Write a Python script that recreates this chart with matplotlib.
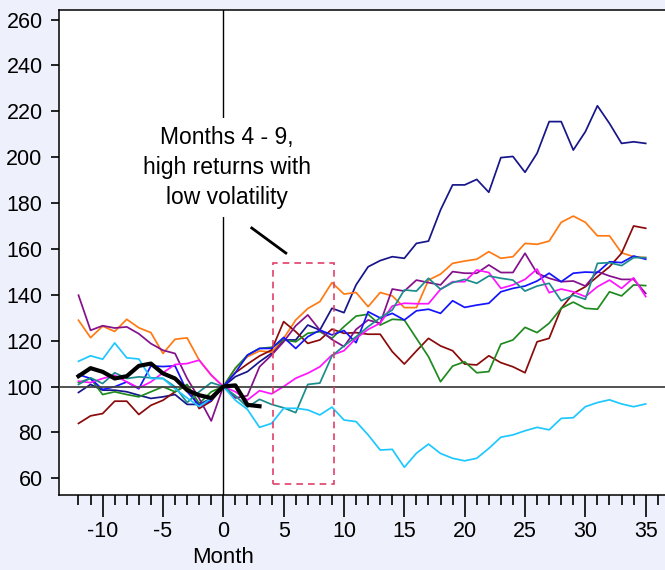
import matplotlib
matplotlib.use("Agg")
import matplotlib.pyplot as plt

plt.rcParams['font.family'] = ['Liberation Sans', 'DejaVu Sans']
plt.rcParams['axes.unicode_minus'] = False

# Meses -12 .. 35 (la serie negra va de -12 a 3)
meses = list(range(-12, 36))
meses_negra = list(range(-12, 4))

navy = [97.4, 100.9, 98.4, 98.4, 97.7, 96.2, 94.8, 95.5, 96.5, 92.2, 92.2, 94.8,
        100, 104.3, 106.5, 110.8, 114.5, 120.3, 120.3, 126.8, 124.6,
        134.1, 132.2, 144.3, 152.2, 154.9, 156.6, 155.9, 162.4, 163.4, 177, 187.9, 187.9, 190.3, 184.7,
        199.8, 200.3, 193.4, 201.7, 215.5, 215.5, 203.1, 211.1, 222.4, 214.7, 206, 206.7, 206]
naranja = [128.9, 121.3, 126.3, 124, 129.3, 125.6, 123.5, 114.4, 120.6, 121.2, 111.5, 104.9,
           100, 108, 113, 115.5, 115, 121, 129, 134, 137,
           145.3, 140.3, 141, 134.8, 141, 139.5, 134.4, 134.4, 146.4, 149, 153.7, 154.7, 155.5, 158.8,
           155.9, 156.6, 162.4, 162, 163.4, 171.6, 174.3, 171.6, 165.7, 165.7, 158.3, 156.6, 156.2]
granate = [83.9, 87.2, 88.2, 93.6, 93.6, 87.8, 91.8, 94, 97.7, 100.6, 90.4, 93.6,
           100, 106, 109.8, 113.3, 115.9, 128.3, 123.9, 118.8, 120.3,
           125, 123.2, 123.5, 122.8, 122.8, 115.2, 109.8, 115.5, 121, 117.7, 115.6, 109.8, 109.4, 113.4,
           110.4, 108.6, 106, 119.5, 121, 134.1, 140.6, 143.5, 147.9, 152.2, 158.1, 170, 169]
verde = [101.7, 103.5, 96.5, 97.7, 96.5, 95.5, 97.7, 99.9, 97.7, 100.9, 92.6, 97.7,
         100, 108, 113.7, 116.6, 117.1, 120.3, 119.5, 123.2, 123.9,
         121, 126.1, 130.7, 131.5, 126.8, 129.3, 129, 121, 113, 102.1, 108.9, 110.8, 106, 106.5,
         118.5, 120.3, 125.8, 123.5, 127.6, 134.1, 136.8, 134.1, 133.7, 141.3, 139.5, 144.3, 144]
morado = [139.8, 124.5, 126.5, 125.5, 126, 123, 118.7, 115.8, 114.4, 103.5, 94.8, 85,
          100, 95, 96, 108.6, 113.7, 119.5, 126.5, 131.2, 124.6,
          120.5, 117.4, 124.9, 129, 127.6, 142.5, 141.6, 146.4, 145.3, 144.3, 150.1, 149.4, 149.4, 153,
          149.7, 149.7, 158.1, 149.4, 147.2, 145.7, 146, 143.8, 150.1, 148.2, 146.7, 146.7, 140.6]
azul = [105.2, 103.5, 98.7, 99.9, 102, 99, 109, 108.7, 109, 97.8, 91.8, 94,
        100, 106, 113.7, 116.6, 116.6, 121.4, 116.6, 121.7, 124.6,
        122.5, 124.4, 119.1, 132.6, 129.9, 131.9, 129, 133, 133.7, 131.9, 137.4, 134.5, 135.5, 136.3,
        141.3, 142.8, 143.8, 146, 149.4, 145.7, 149.4, 149.9, 149.7, 154.4, 154, 156.9, 155.5]
magenta = [102.3, 101.7, 103.5, 104.9, 102, 99.4, 102, 106, 109.6, 110, 111.5, 105,
           100, 97.7, 94.1, 98.2, 96.8, 100, 103.6, 105.8, 108.6,
           113.7, 115.6, 121, 124.9, 127.6, 135.1, 136.3, 136.1, 136.1, 142.4, 145.7, 145.7, 150.8, 149.7,
           142.8, 144.3, 146.7, 151.2, 140.9, 142.5, 141.3, 139.2, 143.5, 146.4, 142.8, 147.4, 139.2]
verde_azulado = [100.9, 103.8, 101.3, 106, 103.5, 104.2, 103.8, 103.5, 99.9, 93, 97.7, 101.7,
                 100, 96, 91, 94.4, 92.2, 90.7, 88.6, 100.9, 101.5,
                 113.3, 117.7, 121.7, 126.1, 129.9, 133.4, 142.1, 141.6, 147.2, 142.4, 145.3, 146.7, 145, 148.2,
                 147.2, 146.4, 141.6, 143.8, 145, 137.4, 139.8, 138, 153.7, 154, 152.7, 156.2, 156.2]
celeste = [111, 113.4, 111.9, 119, 112.5, 112, 103.5, 103.5, 99, 95, 91.3, 94.8,
           100, 94, 90, 82.2, 83.9, 90.5, 90.5, 89.8, 87.6,
           91, 85.4, 84.7, 78.9, 72.3, 72.6, 64.8, 70.9, 74.9, 70.8, 68.7, 67.6, 68.7, 73,
           77.9, 78.9, 80.7, 82.2, 81.1, 86.1, 86.4, 91.2, 93, 94.2, 92.4, 91.2, 92.4]
negra = [104.5, 108, 106.4, 103.5, 104.5, 109, 110, 105.7, 103.5, 98.4, 96.2, 95, 100, 100.5, 92, 91.4]

series = [
    (navy, "#16168a"),
    (naranja, "#ff7a12"),
    (granate, "#8b0a0a"),
    (verde, "#1f8a1f"),
    (morado, "#84108a"),
    (azul, "#1414ff"),
    (magenta, "#ff14ff"),
    (verde_azulado, "#1c8c8c"),
    (celeste, "#1ec8ff"),
]

fig = plt.figure(figsize=(6.65, 5.7), dpi=100, facecolor="#eef0fb")
ax = fig.add_axes([0.089, 0.1316, 0.911, 0.851])
ax.set_facecolor("white")

for valores, color in series:
    ax.plot(meses, valores, color=color, linewidth=1.25, zorder=2)
ax.plot(meses_negra, negra, color="black", linewidth=3, zorder=4)

# Lineas de referencia
ax.axhline(100, color="#444444", linewidth=1.3, zorder=3)
ax.axvline(0, color="black", linewidth=1, zorder=1)

# Recuadro de los meses 4 - 9
ax.add_patch(plt.Rectangle((4.1, 57.5), 5.05, 96.3, fill=False, edgecolor="#e0406a",
                           linestyle=(0, (4, 3)), linewidth=1.2, zorder=5))
ax.plot([2.36, 5.18], [169.1, 158.2], color="black", linewidth=2, zorder=5)
ax.text(0.3, 195.5, "Months 4 - 9,\nhigh returns with\nlow volatility", ha="center", va="center",
        fontsize=16.5, linespacing=1.38, zorder=6,
        bbox=dict(facecolor="white", edgecolor="none", pad=6))

ax.set_xlim(-13.6, 36.6)
ax.set_ylim(52.7, 264.2)
ax.set_xticks(range(-10, 36, 5))
ax.set_xticks(range(-12, 37), minor=True)
ax.set_yticks(range(60, 261, 20))
ax.tick_params(axis="x", which="major", length=16, width=1.2, labelsize=15.5, pad=3)
ax.tick_params(axis="x", which="minor", length=7, width=1.2)
ax.tick_params(axis="y", which="major", length=6, width=1.2, labelsize=15.5, pad=6)

ax.spines["right"].set_visible(False)
for lado in ["left", "bottom", "top"]:
    ax.spines[lado].set_linewidth(1.1)

ax.text(0.271, -0.128, "Month", transform=ax.transAxes, ha="center", va="center", fontsize=16)

plt.savefig("out.png", dpi=100, facecolor=fig.get_facecolor())
plt.close()
